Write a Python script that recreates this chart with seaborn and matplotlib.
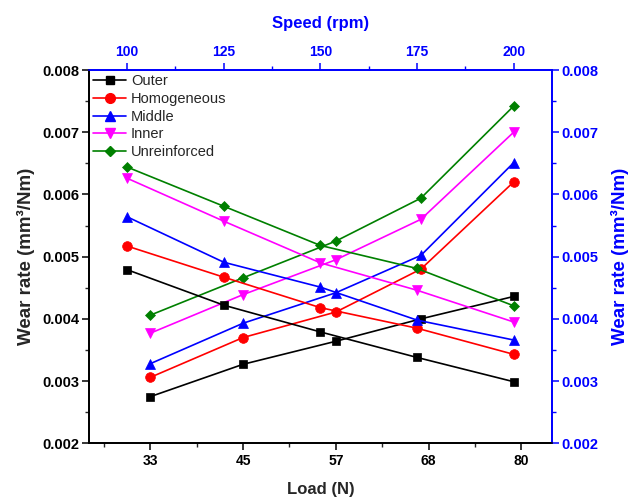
import matplotlib
matplotlib.use("Agg")
import matplotlib.pyplot as plt
import seaborn as sns
import pandas as pd
from matplotlib.ticker import FixedLocator, MultipleLocator

# ---------------- data ----------------
series_names = ["Outer", "Homogeneous", "Middle", "Inner", "Unreinforced"]
load = [33, 45, 57, 68, 80]
load_tick_values = [33, 45, 57, 69, 81]
load_tick_labels = ["33", "45", "57", "68", "80"]
speed = [100, 125, 150, 175, 200]
speed_tick_labels = ["100", "125", "150", "175", "200"]

# wear rate vs load (increasing curves, bottom axis)
outer_load = [0.00275, 0.00327, 0.00364, 0.00400, 0.00436]
homogeneous_load = [0.00306, 0.00370, 0.00411, 0.00480, 0.00620]
middle_load = [0.00328, 0.00393, 0.00442, 0.00502, 0.00651]
inner_load = [0.00377, 0.00439, 0.00495, 0.00560, 0.00700]
unreinforced_load = [0.00406, 0.00466, 0.00525, 0.00594, 0.00742]

# wear rate vs speed (decreasing curves, top axis)
outer_speed = [0.00479, 0.00422, 0.00379, 0.00338, 0.00299]
homogeneous_speed = [0.00517, 0.00467, 0.00418, 0.00385, 0.00343]
middle_speed = [0.00564, 0.00491, 0.00451, 0.00398, 0.00366]
inner_speed = [0.00626, 0.00557, 0.00490, 0.00446, 0.00395]
unreinforced_speed = [0.00644, 0.00581, 0.00518, 0.00481, 0.00421]

y_ticks = [0.002, 0.003, 0.004, 0.005, 0.006, 0.007, 0.008]
y_tick_labels = ["0.002", "0.003", "0.004", "0.005", "0.006", "0.007", "0.008"]

load_values = [outer_load, homogeneous_load, middle_load, inner_load, unreinforced_load]
speed_values = [outer_speed, homogeneous_speed, middle_speed, inner_speed, unreinforced_speed]

# ---------------- style ----------------
sns.set_style("ticks")
plt.rcParams["font.family"] = ["Liberation Sans", "DejaVu Sans"]
plt.rcParams["axes.linewidth"] = 1.1

colors = ["#000000", "#FF0000", "#0000FF", "#FF00FF", "#008000"]
markers = ["s", "o", "^", "v", "D"]
msizes = [6, 7, 7.5, 7.5, 5.5]
BLUE = "#0000FF"

fig = plt.figure(figsize=(6.37, 4.99), dpi=100)
ax = fig.add_axes([88.5 / 637, 1 - 443.3 / 499, (552.3 - 88.5) / 637, (443.3 - 70) / 499])
axt = ax.twiny()
axr = ax.twinx()

df_load = pd.DataFrame({
    "x": load * len(series_names),
    "y": sum(load_values, []),
    "series": [n for n in series_names for _ in load],
})
df_speed = pd.DataFrame({
    "x": speed * len(series_names),
    "y": sum(speed_values, []),
    "series": [n for n in series_names for _ in speed],
})

handles = []
for name, c, m, ms in zip(series_names, colors, markers, msizes):
    d1 = df_load[df_load["series"] == name]
    d2 = df_speed[df_speed["series"] == name]
    sns.lineplot(data=d1, x="x", y="y", ax=ax, color=c, marker=m, markersize=ms,
                 markeredgecolor=c, markeredgewidth=0.5, linewidth=1.2,
                 legend=False, zorder=3)
    sns.lineplot(data=d2, x="x", y="y", ax=axt, color=c, marker=m, markersize=ms,
                 markeredgecolor=c, markeredgewidth=0.5, linewidth=1.2,
                 legend=False, zorder=3)
    h, = ax.plot([], [], color=c, marker=m, markersize=ms, markeredgecolor=c,
                 linewidth=1.2, label=name)
    handles.append(h)

# ---------------- axes limits & ticks ----------------
for a in (ax, axt, axr):
    a.set_ylim(0.002, 0.008)
ax.set_xlim(25, 85)
axt.set_xlim(90, 210)

ax.xaxis.set_major_locator(FixedLocator(load_tick_values))
ax.set_xticklabels(load_tick_labels)
ax.xaxis.set_minor_locator(FixedLocator([27, 39, 51, 63, 75]))
axt.xaxis.set_major_locator(FixedLocator(speed))
axt.set_xticklabels(speed_tick_labels)
axt.xaxis.set_minor_locator(FixedLocator([112.5, 137.5, 162.5, 187.5]))

ax.yaxis.set_major_locator(FixedLocator(y_ticks))
ax.set_yticklabels(y_tick_labels)
ax.yaxis.set_minor_locator(MultipleLocator(0.0005))
axr.yaxis.set_major_locator(FixedLocator(y_ticks))
axr.set_yticklabels(y_tick_labels)
axr.yaxis.set_minor_locator(MultipleLocator(0.0005))

ax.tick_params(axis="x", which="major", direction="out", length=5, width=1.1,
               pad=3, labelsize=10, colors="black")
ax.tick_params(axis="x", which="minor", direction="out", length=3, width=1.0)
ax.tick_params(axis="y", which="major", direction="out", length=5, width=1.1,
               pad=1.5, labelsize=10.5, colors="black")
ax.tick_params(axis="y", which="minor", direction="out", length=3, width=1.0)

axt.tick_params(axis="x", which="major", direction="out", length=5, width=1.1,
                pad=3, labelsize=10, colors=BLUE)
axt.tick_params(axis="x", which="minor", direction="out", length=3, width=1.0, colors=BLUE)
axt.tick_params(axis="y", left=False, right=False, labelleft=False, labelright=False)

axr.tick_params(axis="y", which="major", direction="out", length=5, width=1.1,
                pad=1.5, labelsize=10.5, colors=BLUE)
axr.tick_params(axis="y", which="minor", direction="out", length=3, width=1.0, colors=BLUE)
axr.tick_params(axis="x", top=False, bottom=False, labeltop=False, labelbottom=False)

for a in (ax, axt, axr):
    for lab in a.get_xticklabels() + a.get_yticklabels():
        lab.set_fontweight("bold")
    a.spines["left"].set_color("black")
    a.spines["bottom"].set_color("black")
    a.spines["top"].set_color(BLUE)
    a.spines["right"].set_color(BLUE)

ax.set_xlabel("Load (N)", fontsize=12, fontweight="bold", labelpad=10)
ax.set_ylabel("Wear rate (mm³/Nm)", fontsize=13.5, fontweight="bold", labelpad=5)
axt.set_xlabel("Speed (rpm)", fontsize=12, fontweight="bold", color=BLUE, labelpad=12)
axr.set_ylabel("Wear rate (mm³/Nm)", fontsize=13.5, fontweight="bold", color=BLUE, labelpad=9)
axt.set_ylabel("")

leg = axr.legend(handles=handles, loc="upper left", frameon=False, fontsize=10.5,
                 handlelength=2.3, handletextpad=0.3, labelspacing=0.25,
                 borderaxespad=0.0, borderpad=0.3, bbox_to_anchor=(0.0, 1.0))

fig.savefig("out.png", dpi=100)
